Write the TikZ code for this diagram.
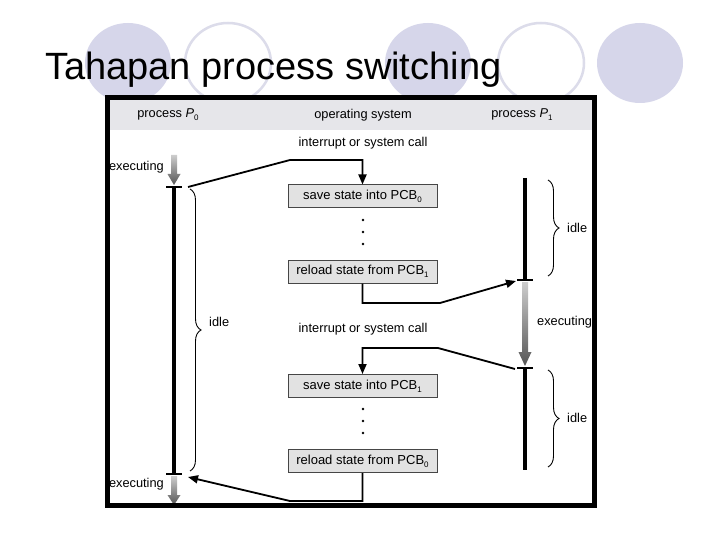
\documentclass[tikz,border=0pt]{standalone}
\usepackage{fontspec}
\setmainfont{Liberation Sans}
\usetikzlibrary{decorations.pathreplacing,arrows.meta}
\definecolor{lav}{RGB}{214,214,234}
\definecolor{lavline}{RGB}{220,220,234}
\definecolor{hdr}{RGB}{230,230,234}
\definecolor{boxfill}{RGB}{226,226,226}
\definecolor{boxline}{RGB}{70,70,70}
\definecolor{gtop}{RGB}{205,205,205}
\definecolor{gbot}{RGB}{85,85,85}
\newcommand\subsc[1]{\raisebox{-0.45ex}{\fontsize{8}{8}\selectfont #1}}
\newcommand\gradarrow[4]{%
  \shade[top color=gtop, bottom color=gbot]
    (#1-3,#2) -- (#1+3,#2) -- (#1+3,#3-#4) -- (#1+6.5,#3-#4) -- (#1,#3)
    -- (#1-6.5,#3-#4) -- (#1-3,#3-#4) -- cycle;}
\begin{document}
\begin{tikzpicture}[x=1pt,y=-1pt,
  lbl/.style={font=\fontsize{12.8}{14}\selectfont, inner sep=0pt},
  osbox/.style={draw=boxline, fill=boxfill, line width=1pt, minimum width=149pt,
    minimum height=23pt, inner sep=0pt, font=\fontsize{13}{14}\selectfont},
  conn/.style={line width=1.8pt},
  arr/.style={conn, -{Triangle[length=10pt,width=8pt]}},
  tline/.style={line width=3.2pt},
  tickln/.style={line width=1.3pt},
  brc/.style={decorate, decoration={brace, amplitude=11pt}, line width=0.9pt},
  ocirc/.style={draw=lavline, line width=2.5pt},
]
\useasboundingbox (0,0) rectangle (720,540);
\fill[white] (0,0) rectangle (720,540);
% background circles
\fill[lav] (128,63) ellipse [x radius=43, y radius=40];
\draw[ocirc] (228,63) ellipse [x radius=43, y radius=40];
\fill[lav] (428,63) ellipse [x radius=43, y radius=40];
\draw[ocirc] (541,63) ellipse [x radius=43, y radius=40];
\fill[lav] (640,63) ellipse [x radius=43, y radius=40];
% title
\node[anchor=base west, font=\fontsize{38}{40}\selectfont, inner sep=0pt] (title) at (45,80) {Tahapan process switching};
% frame interior and header
\fill[white] (107.5,97.5) rectangle (594.5,505.5);
\fill[hdr] (110,100) rectangle (592,130);
\node[lbl] (h0) at (168,115) {process \textit{P}\subsc{0}};
\node[lbl] (hos) at (363,115) {operating system};
\node[lbl] (h1) at (522,115) {process \textit{P}\subsc{1}};
% OS boxes
\node[osbox] (b1) at (362.5,196.5) {save state into PCB\subsc{0}};
\node[osbox] (b2) at (362.5,271.5) {reload state from PCB\subsc{1}};
\node[osbox] (b3) at (362.5,386) {save state into PCB\subsc{1}};
\node[osbox] (b4) at (362.5,461) {reload state from PCB\subsc{0}};
\node[lbl] (i1) at (363,143) {interrupt or system call};
\node[lbl] (i2) at (363,329) {interrupt or system call};
% dots
\foreach \yy in {220,232,244,409,421,433} \fill (363,\yy) circle [radius=1.3pt];
% P0 timeline
\coordinate (t0) at (174,187);
\coordinate (t1) at (174,474);
\gradarrow{174}{155}{185}{11}
\gradarrow{174}{476}{505}{10}
\draw[tline] (t0) -- (t1);
\draw[tickln] (166,187) -- (182,187);
\draw[tickln] (166,474) -- (182,474);
\node[lbl, anchor=east] (e0) at (164,167) {executing};
\node[lbl, anchor=east] (e1) at (164,484) {executing};
\draw[brc] (190,189) -- (190,471);
\node[lbl, anchor=west] (idl0) at (209,322) {idle};
% P1 timeline
\coordinate (u0) at (525,280);
\coordinate (u1) at (525,368);
\draw[tline] (525,178) -- (u0);
\gradarrow{525}{282}{366}{14}
\draw[tline] (u1) -- (525,470);
\draw[tickln] (517,280) -- (533,280);
\draw[tickln] (517,368) -- (533,368);
\node[lbl, anchor=west] (e2) at (537,322) {executing};
\draw[brc] (548,180) -- (548,276);
\draw[brc] (548,370) -- (548,467);
\node[lbl, anchor=west] (idl1) at (567,228) {idle};
\node[lbl, anchor=west] (idl2) at (567,418) {idle};
% connectors
\coordinate (c1s) at (188,187);
\coordinate (c1k) at (290,160);
\draw[arr] (c1s) -- (c1k) -| (b1.north);
\coordinate (c2k) at (440,303);
\coordinate (c2e) at (516,281);
\draw[arr] (b2.south) |- (c2k) -- (c2e);
\coordinate (c3s) at (515,369);
\coordinate (c3k) at (438,348);
\draw[arr] (c3s) -- (c3k) -| (b3.north);
\coordinate (c4k) at (290,501);
\coordinate (c4e) at (188,477);
\draw[arr] (b4.south) |- (c4k) -- (c4e);
% frame border on top
\draw[line width=5pt] (107.5,97.5) rectangle (594.5,505.5);
\end{tikzpicture}
\end{document}
